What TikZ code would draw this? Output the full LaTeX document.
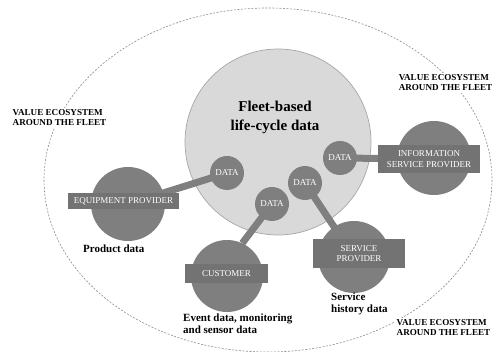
\documentclass[tikz,border=0pt]{standalone}
\usepackage{fontspec}
\setmainfont{Liberation Serif}
\definecolor{actorgray}{HTML}{7F7F7F}
\definecolor{bannergray}{HTML}{737373}
\definecolor{hubfill}{HTML}{D9D9D9}
\definecolor{hubline}{HTML}{A6A6A6}
\definecolor{ringgray}{HTML}{8C8C8C}
\pgfdeclarelayer{bg}
\pgfdeclarelayer{links}
\pgfsetlayers{bg,links,main}
\begin{document}
\begin{tikzpicture}[x=1pt,y=-1pt,
  actor/.style={circle,fill=actorgray,draw=none,minimum size=#1,inner sep=0pt},
  datanode/.style={circle,fill=actorgray,draw=none,minimum size=34pt,inner sep=0pt,
    text=white,font=\fontsize{9}{10}\selectfont},
  banner/.style={rectangle,fill=bannergray,draw=none,inner sep=0pt,text=white,
    align=center,font=\fontsize{9}{10.5}\selectfont},
  link/.style={draw=actorgray,line width=7pt},
  datalabel/.style={align=left,inner sep=0pt,font=\bfseries\fontsize{11}{12}\selectfont},
  ecolabel/.style={align=left,fill=white,inner sep=1.5pt,font=\bfseries\fontsize{9.1}{10}\selectfont},
]
\useasboundingbox (0,0) rectangle (493,352);

% outer dashed value ecosystem
\draw[ringgray,line width=0.6pt,dash pattern=on 2pt off 1.5pt] (268,180) ellipse [x radius=224, y radius=172];

% central hub
\begin{pgfonlayer}{bg}
\node[circle,fill=hubfill,draw=hubline,line width=0.7pt,minimum size=186pt,inner sep=0pt] (hub) at (278,142) {};
\end{pgfonlayer}
\node[align=center,font=\bfseries\fontsize{15}{19}\selectfont] (title) at (275,117) {Fleet-based\\life-cycle data};

% actors
\node[actor=74pt] (eq) at (128,204) {};
\node[actor=72pt] (cu) at (227,276) {};
\node[actor=72pt] (sp) at (354,257) {};
\node[actor=74pt] (isp) at (434,158) {};

\node[banner,minimum width=111pt,minimum height=16pt] (eqb) at (123.5,201) {EQUIPMENT PROVIDER};
\node[banner,minimum width=83pt,minimum height=19pt] (cub) at (226.5,273.5) {CUSTOMER};
\node[banner,minimum width=92pt,minimum height=29pt] (spb) at (359,253.5) {SERVICE\\PROVIDER};
\node[banner,minimum width=102pt,minimum height=28pt] (ispb) at (429,159) {INFORMATION\\SERVICE PROVIDER};

% data points on the hub
\node[datanode] (d1) at (227,173) {DATA};
\node[datanode] (d2) at (340,158) {DATA};
\node[datanode] (d3) at (305,183) {DATA};
\node[datanode] (d4) at (272,204) {DATA};

% links between actors and data points
\begin{pgfonlayer}{links}
\draw[link] (eq.center) -- (d1.center);
\draw[link] (d4.center) -- (cu.65);
\draw[link] (d3.center) -- (sp.center);
\draw[link] (d2.center) -- (ispb.center);
\end{pgfonlayer}

% data descriptions
\node[datalabel,anchor=west] (pd) at (83,249) {Product data};
\node[datalabel,anchor=north west] (ed) at (183,314) {Event data, monitoring\\and sensor data};
\node[datalabel,anchor=north west] (sd) at (331,293) {Service\\history data};

% ecosystem labels
\node[ecolabel,anchor=west] (e1) at (11,118) {VALUE ECOSYSTEM\\AROUND THE FLEET};
\node[ecolabel,anchor=east,inner xsep=0.5pt] (e2) at (493,83) {VALUE ECOSYSTEM\\AROUND THE FLEET};
\node[ecolabel,anchor=west] (e3) at (395,328) {VALUE ECOSYSTEM\\AROUND THE FLEET};
\end{tikzpicture}
\end{document}
